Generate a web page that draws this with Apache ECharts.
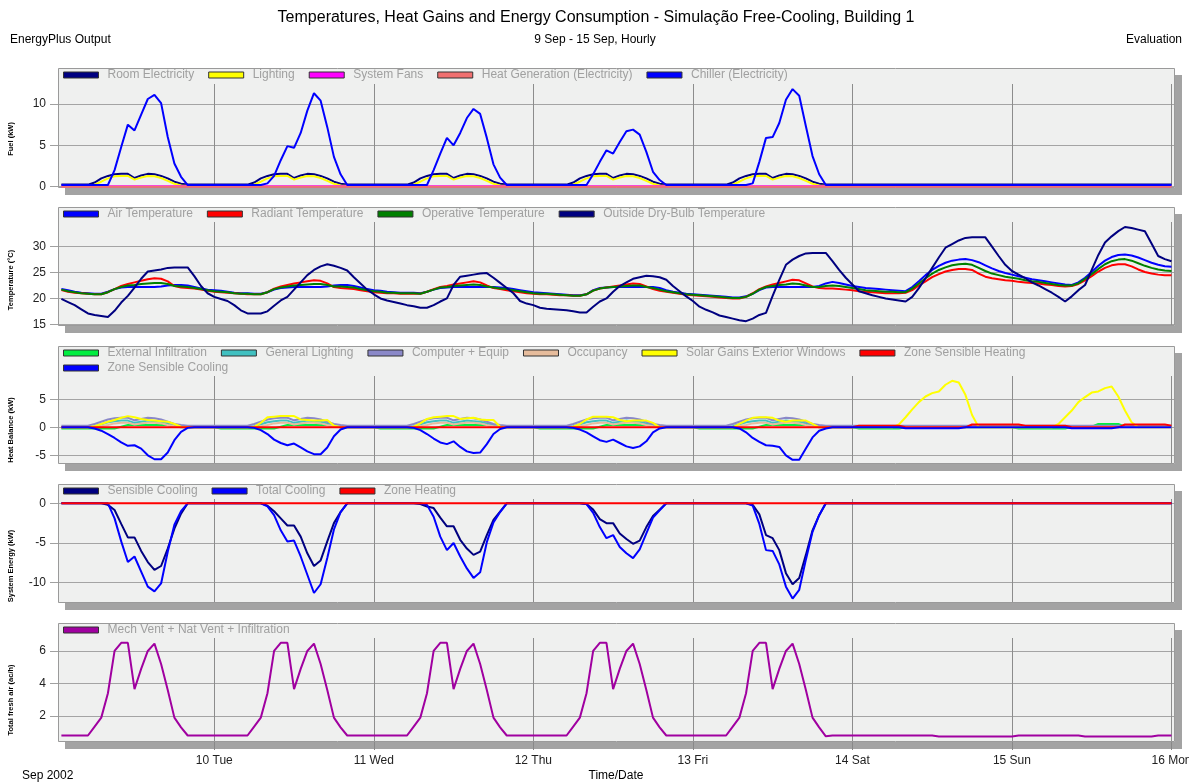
<!DOCTYPE html>
<html>
<head>
<meta charset="utf-8">
<title>Temperatures, Heat Gains and Energy Consumption</title>
<script src="https://cdn.jsdelivr.net/npm/echarts@6/dist/echarts.min.js"></script>
<style>
  html, body { margin: 0; padding: 0; background: #ffffff; }
  #chart { width: 1189px; height: 783px; }
</style>
</head>
<body>
<div id="chart"></div>
<script>
// ---- Hourly values, 9 Sep 01:00 .. 16 Sep 00:00 (one row per day, Mon..Sun) ----

// Day boundaries on the time axis (hours since 9 Sep 00:00) and their labels
const dayTicks = [24, 48, 72, 96, 120, 144, 168];
const dayLabels = ['10 Tue', '11 Wed', '12 Thu', '13 Fri', '14 Sat', '15 Sun', '16 Mon'];

// y tick labels per panel
const fuelTicks = [0, 5, 10];
const temperatureTicks = [15, 20, 25, 30];
const heatBalanceTicks = [-5, 0, 5];
const systemEnergyTicks = [-10, -5, 0];
const freshAirTicks = [2, 4, 6];

// Fuel (kW)
const roomElectricity = [
  0.25,0.25,0.25,0.25,0.25,0.5,1.0,1.3,1.5,1.55,1.55,1.05,1.35,1.55,1.5,1.3,1.0,0.6,0.35,0.25,0.25,0.25,0.25,0.25,
  0.25,0.25,0.25,0.25,0.25,0.5,1.0,1.3,1.5,1.55,1.55,1.05,1.35,1.55,1.5,1.3,1.0,0.6,0.35,0.25,0.25,0.25,0.25,0.25,
  0.25,0.25,0.25,0.25,0.25,0.5,1.0,1.3,1.5,1.55,1.55,1.05,1.35,1.55,1.5,1.3,1.0,0.6,0.35,0.25,0.25,0.25,0.25,0.25,
  0.25,0.25,0.25,0.25,0.25,0.5,1.0,1.3,1.5,1.55,1.55,1.05,1.35,1.55,1.5,1.3,1.0,0.6,0.35,0.25,0.25,0.25,0.25,0.25,
  0.25,0.25,0.25,0.25,0.25,0.5,1.0,1.3,1.5,1.55,1.55,1.05,1.35,1.55,1.5,1.3,1.0,0.6,0.35,0.25,0.25,0.25,0.25,0.25,
  0.25,0.25,0.25,0.25,0.25,0.25,0.25,0.25,0.25,0.25,0.25,0.25,0.25,0.25,0.25,0.25,0.25,0.25,0.25,0.25,0.25,0.25,0.25,0.25,
  0.25,0.25,0.25,0.25,0.25,0.25,0.25,0.25,0.25,0.25,0.25,0.25,0.25,0.25,0.25,0.25,0.25,0.25,0.25,0.25,0.25,0.25,0.25,0.25
];
const lighting = [
  0.1,0.1,0.1,0.1,0.1,0.25,0.6,1.0,1.25,1.3,1.3,0.85,1.1,1.3,1.25,1.05,0.7,0.35,0.15,0.1,0.1,0.1,0.1,0.1,
  0.1,0.1,0.1,0.1,0.1,0.25,0.6,1.0,1.25,1.3,1.3,0.85,1.1,1.3,1.25,1.05,0.7,0.35,0.15,0.1,0.1,0.1,0.1,0.1,
  0.1,0.1,0.1,0.1,0.1,0.25,0.6,1.0,1.25,1.3,1.3,0.85,1.1,1.3,1.25,1.05,0.7,0.35,0.15,0.1,0.1,0.1,0.1,0.1,
  0.1,0.1,0.1,0.1,0.1,0.25,0.6,1.0,1.25,1.3,1.3,0.85,1.1,1.3,1.25,1.05,0.7,0.35,0.15,0.1,0.1,0.1,0.1,0.1,
  0.1,0.1,0.1,0.1,0.1,0.25,0.6,1.0,1.25,1.3,1.3,0.85,1.1,1.3,1.25,1.05,0.7,0.35,0.15,0.1,0.1,0.1,0.1,0.1,
  0.1,0.1,0.1,0.1,0.1,0.1,0.1,0.1,0.1,0.1,0.1,0.1,0.1,0.1,0.1,0.1,0.1,0.1,0.1,0.1,0.1,0.1,0.1,0.1,
  0.1,0.1,0.1,0.1,0.1,0.1,0.1,0.1,0.1,0.1,0.1,0.1,0.1,0.1,0.1,0.1,0.1,0.1,0.1,0.1,0.1,0.1,0.1,0.1
];
const systemFans = [
  0.05,0.05,0.05,0.05,0.05,0.05,0.05,0.05,0.05,0.05,0.05,0.05,0.05,0.05,0.05,0.05,0.05,0.05,0.05,0.05,0.05,0.05,0.05,0.05,
  0.05,0.05,0.05,0.05,0.05,0.05,0.05,0.05,0.05,0.05,0.05,0.05,0.05,0.05,0.05,0.05,0.05,0.05,0.05,0.05,0.05,0.05,0.05,0.05,
  0.05,0.05,0.05,0.05,0.05,0.05,0.05,0.05,0.05,0.05,0.05,0.05,0.05,0.05,0.05,0.05,0.05,0.05,0.05,0.05,0.05,0.05,0.05,0.05,
  0.05,0.05,0.05,0.05,0.05,0.05,0.05,0.05,0.05,0.05,0.05,0.05,0.05,0.05,0.05,0.05,0.05,0.05,0.05,0.05,0.05,0.05,0.05,0.05,
  0.05,0.05,0.05,0.05,0.05,0.05,0.05,0.05,0.05,0.05,0.05,0.05,0.05,0.05,0.05,0.05,0.05,0.05,0.05,0.05,0.05,0.05,0.05,0.05,
  0.05,0.05,0.05,0.05,0.05,0.05,0.05,0.05,0.05,0.05,0.05,0.05,0.05,0.05,0.05,0.05,0.05,0.05,0.05,0.05,0.05,0.05,0.05,0.05,
  0.05,0.05,0.05,0.05,0.05,0.05,0.05,0.05,0.05,0.05,0.05,0.05,0.05,0.05,0.05,0.05,0.05,0.05,0.05,0.05,0.05,0.05,0.05,0.05
];
const heatGeneration = [
  0,0,0,0,0,0,0,0,0,0,0,0,0,0,0,0,0,0,0,0,0,0,0,0,
  0,0,0,0,0,0,0,0,0,0,0,0,0,0,0,0,0,0,0,0,0,0,0,0,
  0,0,0,0,0,0,0,0,0,0,0,0,0,0,0,0,0,0,0,0,0,0,0,0,
  0,0,0,0,0,0,0,0,0,0,0,0,0,0,0,0,0,0,0,0,0,0,0,0,
  0,0,0,0,0,0,0,0,0,0,0,0,0,0,0,0,0,0,0,0,0,0,0,0,
  0,0,0,0,0,0,0,0,0,0,0,0,0,0,0,0,0,0,0,0,0,0,0,0,
  0,0,0,0,0,0,0,0,0,0,0,0,0,0,0,0,0,0,0,0,0,0,0,0
];
const chiller = [
  0.2,0.2,0.2,0.2,0.2,0.2,0.2,0.2,2.0,4.8,7.5,6.8,8.7,10.6,11.1,10.1,6.0,2.8,1.2,0.2,0.2,0.2,0.2,0.2,
  0.2,0.2,0.2,0.2,0.2,0.2,0.2,0.4,1.3,3.2,4.9,4.7,6.5,9.2,11.3,10.4,7.2,3.6,1.5,0.2,0.2,0.2,0.2,0.2,
  0.2,0.2,0.2,0.2,0.2,0.2,0.2,0.2,2.0,4.0,5.9,5.0,6.5,8.3,9.4,8.8,5.9,2.7,1.1,0.2,0.2,0.2,0.2,0.2,
  0.2,0.2,0.2,0.2,0.2,0.2,0.2,0.2,1.5,3.0,4.4,4.0,5.4,6.7,6.9,6.3,4.2,1.8,0.8,0.2,0.2,0.2,0.2,0.2,
  0.2,0.2,0.2,0.2,0.2,0.2,0.2,0.2,0.4,3.0,5.9,6.0,7.7,10.5,11.8,11.0,7.3,3.7,1.5,0.2,0.2,0.2,0.2,0.2,
  0.2,0.2,0.2,0.2,0.2,0.2,0.2,0.2,0.2,0.2,0.2,0.2,0.2,0.2,0.2,0.2,0.2,0.2,0.2,0.2,0.2,0.2,0.2,0.2,
  0.2,0.2,0.2,0.2,0.2,0.2,0.2,0.2,0.2,0.2,0.2,0.2,0.2,0.2,0.2,0.2,0.2,0.2,0.2,0.2,0.2,0.2,0.2,0.2
];

// Temperature (°C)
const airTemperature = [
  21.8,21.6,21.3,21.1,21.0,20.9,20.9,21.3,21.8,22.1,22.2,22.2,22.2,22.2,22.2,22.3,22.5,22.6,22.6,22.5,22.2,21.9,21.7,21.6,
  21.5,21.3,21.1,21.0,21.0,20.9,20.9,21.2,21.7,22.0,22.1,22.2,22.2,22.2,22.2,22.2,22.3,22.5,22.6,22.6,22.4,22.1,21.8,21.6,
  21.5,21.3,21.2,21.1,21.1,21.1,21.0,21.3,21.7,22.0,22.1,22.2,22.2,22.2,22.2,22.2,22.2,22.2,22.1,22.0,21.8,21.6,21.4,21.2,
  21.1,21.0,20.9,20.8,20.7,20.6,20.6,20.8,21.6,22.0,22.1,22.2,22.2,22.2,22.2,22.2,22.2,22.2,22.0,21.6,21.3,21.1,20.9,20.8,
  20.7,20.6,20.5,20.4,20.3,20.2,20.2,20.4,20.9,21.6,22.1,22.2,22.2,22.2,22.2,22.2,22.2,22.2,22.4,22.9,23.2,23.0,22.7,22.4,
  22.2,22.0,21.9,21.8,21.7,21.6,21.5,21.4,22.2,23.3,24.5,25.5,26.3,26.9,27.3,27.5,27.6,27.4,27.0,26.4,25.8,25.3,24.9,24.6,
  24.3,24.0,23.7,23.5,23.3,23.1,22.9,22.7,22.6,23.1,24.0,25.1,26.3,27.3,28.0,28.4,28.5,28.3,27.9,27.4,26.9,26.5,26.2,26.1
];
const radiantTemperature = [
  21.6,21.3,21.1,21.0,20.9,20.8,20.8,21.2,21.8,22.4,22.8,23.1,23.4,23.7,23.9,23.8,23.3,22.4,22.1,22.0,21.9,21.7,21.5,21.3,
  21.2,21.1,21.0,20.9,20.8,20.8,20.8,21.2,21.9,22.3,22.6,22.9,23.1,23.3,23.5,23.4,22.9,22.2,22.0,21.9,21.8,21.6,21.4,21.2,
  21.1,21.0,21.0,20.9,20.9,20.9,20.9,21.3,21.8,22.2,22.4,22.7,22.9,23.1,23.3,23.1,22.5,22.0,21.8,21.6,21.4,21.2,21.0,20.9,
  20.8,20.8,20.7,20.6,20.6,20.5,20.5,20.8,21.5,21.9,22.1,22.3,22.5,22.7,22.9,22.8,22.3,21.8,21.5,21.3,21.1,20.9,20.7,20.6,
  20.5,20.4,20.3,20.2,20.1,20.0,20.0,20.3,21.0,21.8,22.3,22.7,23.0,23.3,23.6,23.5,22.9,22.3,22.0,21.9,21.9,21.8,21.7,21.6,
  21.4,21.3,21.2,21.1,21.0,21.0,21.0,21.1,21.6,22.5,23.3,24.1,24.7,25.2,25.5,25.7,25.7,25.5,24.8,24.2,23.9,23.7,23.5,23.4,
  23.2,23.1,23.0,22.9,22.7,22.6,22.4,22.3,22.4,22.8,23.5,24.3,25.2,25.9,26.4,26.6,26.6,26.2,25.6,25.1,24.8,24.6,24.5,24.5
];
const operativeTemperature = [
  21.7,21.4,21.2,21.0,20.9,20.8,20.8,21.2,21.8,22.2,22.5,22.6,22.8,22.9,23.0,23.0,22.8,22.4,22.3,22.2,22.0,21.8,21.6,21.4,
  21.3,21.2,21.0,20.9,20.9,20.8,20.8,21.2,21.8,22.1,22.3,22.5,22.6,22.7,22.8,22.8,22.6,22.3,22.3,22.2,22.1,21.8,21.6,21.4,
  21.3,21.1,21.1,21.0,21.0,21.0,20.9,21.3,21.7,22.1,22.2,22.4,22.5,22.6,22.7,22.6,22.3,22.1,21.9,21.8,21.6,21.4,21.2,21.0,
  20.9,20.9,20.8,20.7,20.6,20.5,20.5,20.8,21.5,21.9,22.1,22.2,22.3,22.4,22.5,22.5,22.2,22.0,21.7,21.4,21.2,21.0,20.8,20.7,
  20.6,20.5,20.4,20.3,20.2,20.1,20.1,20.3,20.9,21.7,22.2,22.4,22.6,22.7,22.9,22.8,22.5,22.2,22.2,22.4,22.5,22.4,22.2,22.0,
  21.8,21.6,21.5,21.4,21.3,21.3,21.2,21.2,21.9,22.9,23.9,24.8,25.5,26.0,26.4,26.6,26.7,26.5,25.9,25.3,24.8,24.5,24.2,24.0,
  23.8,23.5,23.3,23.2,23.0,22.8,22.6,22.5,22.5,22.9,23.8,24.7,25.7,26.6,27.2,27.5,27.6,27.3,26.8,26.3,25.9,25.6,25.4,25.3
];
const outsideDryBulb = [
  19.9,19.3,18.7,17.9,17.1,16.8,16.6,16.4,17.6,19.2,20.5,22.1,23.8,25.2,25.4,25.6,25.9,26.0,26.0,26.0,24.3,22.4,21.0,20.3,
  19.9,19.5,18.7,17.7,17.1,17.1,17.1,17.5,18.6,19.6,20.3,21.7,23.1,24.5,25.5,26.2,26.6,26.3,25.9,25.4,24.1,22.9,21.7,20.8,
  20.0,19.6,19.3,19.0,18.7,18.5,18.2,18.2,18.7,19.4,20.0,22.6,24.2,24.4,24.6,24.8,24.9,24.0,23.0,22.0,21.0,19.5,19.0,18.7,
  18.2,18.0,17.9,17.8,17.7,17.5,17.3,17.3,18.4,19.4,20.0,21.3,22.4,23.1,23.8,24.1,24.4,24.3,24.1,23.6,22.4,21.4,20.4,19.5,
  18.4,17.8,17.3,16.7,16.4,16.1,15.8,15.6,16.1,16.8,17.2,20.5,23.6,26.5,27.5,28.2,28.7,28.8,28.8,28.8,27.2,25.5,24.0,22.7,
  21.4,21.0,20.6,20.3,20.0,19.8,19.6,19.4,20.3,22.0,23.9,25.9,27.9,29.8,30.5,31.2,31.7,31.8,31.8,31.8,30.0,28.2,26.5,25.3,
  24.6,23.9,23.1,22.5,21.8,21.1,20.3,19.4,20.4,21.6,22.6,25.5,28.4,30.8,32.0,33.0,33.8,33.6,33.3,33.0,30.6,28.2,27.6,27.2
];

// Heat Balance (kW)
const externalInfiltration = [
  -0.2,-0.2,-0.2,-0.2,-0.2,-0.2,-0.2,-0.2,-0.2,0.1,0.4,0.4,0.4,0.4,0.4,0.4,0.4,0.2,0,0,0,0,0,0,
  -0.2,-0.2,-0.2,-0.2,-0.2,-0.2,-0.2,-0.2,-0.2,0.1,0.4,0.4,0.4,0.4,0.4,0.4,0.4,0.2,0,0,0,0,0,0,
  -0.2,-0.2,-0.2,-0.2,-0.2,-0.2,-0.2,-0.2,-0.2,0.1,0.4,0.4,0.4,0.4,0.4,0.4,0.4,0.2,0,0,0,0,0,0,
  -0.2,-0.2,-0.2,-0.2,-0.2,-0.2,-0.2,-0.2,-0.2,0.1,0.4,0.4,0.4,0.4,0.4,0.4,0.4,0.2,0,0,0,0,0,0,
  -0.2,-0.2,-0.2,-0.2,-0.2,-0.2,-0.2,-0.2,-0.2,0.1,0.4,0.4,0.4,0.4,0.4,0.4,0.4,0.2,0,0,0,0,0,0,
  -0.2,-0.2,-0.2,-0.2,-0.2,-0.2,-0.2,0,0,0,0,0,0,0,0,0,0,0,0,0,0,0,0,0,
  -0.2,-0.2,-0.2,-0.2,-0.2,-0.2,-0.2,-0.2,0.1,0.1,0.1,0.1,0.6,0.6,0.6,0.6,0.1,0.1,0.1,0.1,0.1,0.1,0.1,0.1
];
const generalLighting = [
  0.05,0.05,0.05,0.05,0.05,0.2,0.55,0.9,1.1,1.2,1.2,0.8,1.0,1.2,1.1,1.0,0.7,0.4,0.2,0.05,0.05,0.05,0.05,0.05,
  0.05,0.05,0.05,0.05,0.05,0.2,0.55,0.9,1.1,1.2,1.2,0.8,1.0,1.2,1.1,1.0,0.7,0.4,0.2,0.05,0.05,0.05,0.05,0.05,
  0.05,0.05,0.05,0.05,0.05,0.2,0.55,0.9,1.1,1.2,1.2,0.8,1.0,1.2,1.1,1.0,0.7,0.4,0.2,0.05,0.05,0.05,0.05,0.05,
  0.05,0.05,0.05,0.05,0.05,0.2,0.55,0.9,1.1,1.2,1.2,0.8,1.0,1.2,1.1,1.0,0.7,0.4,0.2,0.05,0.05,0.05,0.05,0.05,
  0.05,0.05,0.05,0.05,0.05,0.2,0.55,0.9,1.1,1.2,1.2,0.8,1.0,1.2,1.1,1.0,0.7,0.4,0.2,0.05,0.05,0.05,0.05,0.05,
  0.05,0.05,0.05,0.05,0.05,0.05,0.05,0.05,0.05,0.05,0.05,0.05,0.05,0.05,0.05,0.05,0.05,0.05,0.05,0.05,0.05,0.05,0.05,0.05,
  0.05,0.05,0.05,0.05,0.05,0.05,0.05,0.05,0.05,0.05,0.05,0.05,0.05,0.05,0.05,0.05,0.05,0.05,0.05,0.05,0.05,0.05,0.05,0.05
];
const computerEquip = [
  0.3,0.3,0.3,0.3,0.3,0.6,1.0,1.4,1.6,1.7,1.7,1.25,1.5,1.7,1.6,1.4,1.0,0.6,0.4,0.3,0.3,0.3,0.3,0.3,
  0.3,0.3,0.3,0.3,0.3,0.6,1.0,1.4,1.6,1.7,1.7,1.25,1.5,1.7,1.6,1.4,1.0,0.6,0.4,0.3,0.3,0.3,0.3,0.3,
  0.3,0.3,0.3,0.3,0.3,0.6,1.0,1.4,1.6,1.7,1.7,1.25,1.5,1.7,1.6,1.4,1.0,0.6,0.4,0.3,0.3,0.3,0.3,0.3,
  0.3,0.3,0.3,0.3,0.3,0.6,1.0,1.4,1.6,1.7,1.7,1.25,1.5,1.7,1.6,1.4,1.0,0.6,0.4,0.3,0.3,0.3,0.3,0.3,
  0.3,0.3,0.3,0.3,0.3,0.6,1.0,1.4,1.6,1.7,1.7,1.25,1.5,1.7,1.6,1.4,1.0,0.6,0.4,0.3,0.3,0.3,0.3,0.3,
  0.3,0.3,0.3,0.3,0.3,0.3,0.3,0.3,0.3,0.3,0.3,0.3,0.3,0.3,0.3,0.3,0.3,0.3,0.3,0.3,0.3,0.3,0.3,0.3,
  0.3,0.3,0.3,0.3,0.3,0.3,0.3,0.3,0.3,0.3,0.3,0.3,0.3,0.3,0.3,0.3,0.3,0.3,0.3,0.3,0.3,0.3,0.3,0.3
];
const occupancy = [
  0,0,0,0,0,0,0.2,0.4,0.7,0.8,0.8,0.5,0.7,0.8,0.8,0.7,0.4,0.2,0.05,0,0,0,0,0,
  0,0,0,0,0,0,0.2,0.4,0.7,0.8,0.8,0.5,0.7,0.8,0.8,0.7,0.4,0.2,0.05,0,0,0,0,0,
  0,0,0,0,0,0,0.2,0.4,0.7,0.8,0.8,0.5,0.7,0.8,0.8,0.7,0.4,0.2,0.05,0,0,0,0,0,
  0,0,0,0,0,0,0.2,0.4,0.7,0.8,0.8,0.5,0.7,0.8,0.8,0.7,0.4,0.2,0.05,0,0,0,0,0,
  0,0,0,0,0,0,0.2,0.4,0.7,0.8,0.8,0.5,0.7,0.8,0.8,0.7,0.4,0.2,0.05,0,0,0,0,0,
  0,0,0,0,0,0,0,0,0,0,0,0,0,0,0,0,0,0,0,0,0,0,0,0,
  0,0,0,0,0,0,0,0,0,0,0,0,0,0,0,0,0,0,0,0,0,0,0,0
];
const solarGains = [
  0,0,0,0,0,0.2,0.6,1.0,1.3,1.7,2.0,1.8,1.5,1.3,1.2,1.1,1.0,0.6,0.1,0,0,0,0,0,
  0,0,0,0,0,0.1,0.8,1.8,1.9,2.0,2.0,2.0,1.4,1.3,1.2,1.2,1.3,0.3,0,0,0,0,0,0,
  0,0,0,0,0,0.1,0.7,1.5,1.8,1.9,2.0,2.0,1.5,1.6,1.7,1.4,1.3,1.3,0.1,0,0,0,0,0,
  0,0,0,0,0,0.1,0.6,1.4,1.9,1.9,1.9,1.8,1.3,1.1,1.2,1.2,1.2,0.8,0,0,0,0,0,0,
  0,0,0,0,0,0,0.6,1.2,1.7,1.8,1.8,1.7,1.2,1.0,1.2,1.2,1.2,0.6,0,0,0,0,0,0,
  0,0,0,0,0,0,0.5,1.8,3.2,4.5,5.5,6.1,6.4,7.6,8.3,8.0,5.8,2.2,0,0,0,0,0,0,
  0,0,0,0,0,0,0.6,1.8,3.0,4.5,5.4,6.2,6.4,7.0,7.3,5.5,3.0,0.9,0,0,0,0,0,0
];
const zoneSensibleHeating = [
  0,0,0,0,0,0,0,0,0,0,0,0,0,0,0,0,0,0,0,0,0,0,0,0,
  0,0,0,0,0,0,0,0,0,0,0,0,0,0,0,0,0,0,0,0,0,0,0,0,
  0,0,0,0,0,0,0,0,0,0,0,0,0,0,0,0,0,0,0,0,0,0,0,0,
  0,0,0,0,0,0,0,0,0,0,0,0,0,0,0,0,0,0,0,0,0,0,0,0,
  0,0,0,0,0,0,0,0,0,0,0,0,0,0,0,0,0,0,0,0,0,0,0,0,
  0.3,0.3,0.3,0.3,0.3,0.3,0.3,0,0,0,0,0,0,0,0,0,0,0.5,0.5,0.5,0.5,0.5,0.5,0.5,
  0.5,0.3,0.3,0.3,0.3,0.3,0.3,0.3,0,0,0,0,0,0,0,0,0.5,0.5,0.5,0.5,0.5,0.5,0.5,0.3
];
const zoneSensibleCooling = [
  0,0,0,0,0,-0.2,-0.6,-1.2,-1.9,-2.7,-3.3,-3.2,-3.8,-5.0,-5.7,-5.7,-4.5,-2.3,-0.8,-0.1,0,0,0,0,
  0,0,0,0,0,-0.1,-0.5,-1.2,-2.2,-2.8,-3.2,-2.9,-3.6,-4.3,-4.8,-4.8,-3.6,-1.6,-0.4,0,0,0,0,0,
  0,0,0,0,0,-0.1,-0.5,-1.2,-2.0,-2.7,-3.0,-2.5,-3.5,-4.3,-4.6,-4.5,-3.0,-1.2,-0.3,0,0,0,0,0,
  0,0,0,0,0,-0.1,-0.4,-0.9,-1.6,-2.3,-2.6,-2.2,-2.8,-3.4,-3.7,-3.4,-2.5,-0.9,-0.2,0,0,0,0,0,
  0,0,0,0,0,0,-0.2,-0.9,-1.9,-2.6,-3.2,-3.3,-3.5,-5.0,-5.8,-5.8,-3.8,-1.8,-0.6,-0.2,0,0,0,0,
  0,0,0,0,0,0,0,-0.15,-0.15,-0.15,-0.15,-0.15,-0.15,-0.15,-0.15,-0.15,0,0,0,0,0,0,0,0,
  0,0,0,0,0,0,0,0,-0.15,-0.15,-0.15,-0.15,-0.15,-0.15,-0.15,0,0,0,0,0,0,0,0,0
];

// System Energy (kW)
const sensibleCooling = [
  0,0,0,0,0,0,0,-0.2,-0.85,-2.6,-4.3,-4.3,-6.0,-7.4,-8.4,-7.9,-5.7,-3.2,-1.3,0,0,0,0,0,
  0,0,0,0,0,0,0,-0.3,-1.0,-1.9,-2.8,-2.8,-4.2,-6.3,-7.9,-7.2,-4.8,-2.5,-1.1,0,0,0,0,0,
  0,0,0,0,0,0,-0.1,-0.4,-0.6,-1.8,-2.9,-2.9,-4.6,-5.7,-6.5,-6.1,-4.0,-2.1,-1.05,0,0,0,0,0,
  0,0,0,0,0,0,0,-0.1,-0.8,-2.0,-2.5,-2.5,-3.8,-4.5,-5.1,-4.7,-3.0,-1.6,-0.8,0,0,0,0,0,
  0,0,0,0,0,0,0,0,-0.2,-1.4,-4.0,-4.4,-5.9,-8.8,-10.2,-9.4,-6.5,-3.4,-1.5,0,0,0,0,0,
  0,0,0,0,0,0,0,0,0,0,0,0,0,0,0,0,0,0,0,0,0,0,0,0,
  0,0,0,0,0,0,0,0,0,0,0,0,0,0,0,0,0,0,0,0,0,0,0,0
];
const totalCooling = [
  0,0,0,0,0,0,0,0,-1.9,-4.8,-7.4,-6.7,-8.6,-10.5,-11.1,-10.1,-6.1,-2.7,-1.0,0,0,0,0,0,
  0,0,0,0,0,0,0,-0.4,-1.5,-3.4,-4.8,-4.7,-6.7,-9.0,-11.3,-10.2,-6.9,-3.3,-1.1,0,0,0,0,0,
  0,0,0,0,0,0,0,-0.2,-1.7,-4.2,-5.9,-5.0,-6.7,-8.2,-9.4,-8.7,-4.9,-2.4,-1.1,0,0,0,0,0,
  0,0,0,0,0,0,0,-0.1,-1.2,-3.0,-4.4,-4.0,-5.5,-6.3,-6.9,-5.8,-3.8,-1.8,-0.9,0,0,0,0,0,
  0,0,0,0,0,0,0,0,-0.3,-2.6,-5.9,-6.0,-7.7,-10.5,-12.0,-10.9,-7.1,-3.6,-1.5,0,0,0,0,0,
  0,0,0,0,0,0,0,0,0,0,0,0,0,0,0,0,0,0,0,0,0,0,0,0,
  0,0,0,0,0,0,0,0,0,0,0,0,0,0,0,0,0,0,0,0,0,0,0,0
];
const zoneHeating = [
  0,0,0,0,0,0,0,0,0,0,0,0,0,0,0,0,0,0,0,0,0,0,0,0,
  0,0,0,0,0,0,0,0,0,0,0,0,0,0,0,0,0,0,0,0,0,0,0,0,
  0,0,0,0,0,0,0,0,0,0,0,0,0,0,0,0,0,0,0,0,0,0,0,0,
  0,0,0,0,0,0,0,0,0,0,0,0,0,0,0,0,0,0,0,0,0,0,0,0,
  0,0,0,0,0,0,0,0,0,0,0,0,0,0,0,0,0,0,0,0,0,0,0,0,
  0,0,0,0,0,0,0,0,0,0,0,0,0,0,0,0,0,0,0,0,0,0,0,0,
  0,0,0,0,0,0,0,0,0,0,0,0,0,0,0,0,0,0,0,0,0,0,0,0
];

// Total fresh air (ac/h)
const freshAir = [
  0.8,0.8,0.8,0.8,0.8,1.35,1.9,3.4,6.0,6.5,6.5,3.65,4.9,6.0,6.45,5.2,3.6,1.9,1.3,0.8,0.8,0.8,0.8,0.8,
  0.8,0.8,0.8,0.8,0.8,1.35,1.9,3.4,6.0,6.5,6.5,3.65,4.9,6.0,6.45,5.2,3.6,1.9,1.3,0.8,0.8,0.8,0.8,0.8,
  0.8,0.8,0.8,0.8,0.8,1.35,1.9,3.4,6.0,6.5,6.5,3.65,4.9,6.0,6.45,5.2,3.6,1.9,1.3,0.8,0.8,0.8,0.8,0.8,
  0.8,0.8,0.8,0.8,0.8,1.35,1.9,3.4,6.0,6.5,6.5,3.65,4.9,6.0,6.45,5.2,3.6,1.9,1.3,0.8,0.8,0.8,0.8,0.8,
  0.8,0.8,0.8,0.8,0.8,1.35,1.9,3.4,6.0,6.5,6.5,3.65,4.9,6.0,6.45,5.2,3.6,1.9,1.3,0.75,0.8,0.8,0.8,0.8,
  0.8,0.8,0.8,0.8,0.8,0.8,0.8,0.8,0.8,0.8,0.8,0.8,0.74,0.74,0.74,0.74,0.74,0.74,0.74,0.74,0.74,0.74,0.74,0.74,
  0.8,0.8,0.8,0.8,0.8,0.8,0.8,0.8,0.8,0.8,0.74,0.74,0.74,0.74,0.74,0.74,0.74,0.74,0.74,0.74,0.74,0.8,0.8,0.8
];

// ---- Layout ----
const FONT = '"Liberation Sans", Arial, Helvetica, sans-serif';
const PLOT_LEFT = 58;
const PLOT_RIGHT = 1175;
const PLOT_W = PLOT_RIGHT - PLOT_LEFT;
const X_MIN = 0.49, X_MAX = 168.53;
const PLOT_BG = '#eff0ef';

const panels = [
  { top: 68,  height: 120, min: -0.16,  max: 14.35, ticks: fuelTicks,         strip: 84,  title: 'Fuel (kW)',              titleY: 139 },
  { top: 207, height: 119, min: 14.67,  max: 37.67, ticks: temperatureTicks,  strip: 222, title: 'Temperature (°C)',       titleY: 280 },
  { top: 346, height: 118, min: -6.55,  max: 14.52, ticks: heatBalanceTicks,  strip: 376, title: 'Heat Balance (kW)',      titleY: 430 },
  { top: 484, height: 119, min: -12.56, max: 2.43,  ticks: systemEnergyTicks, strip: 499, title: 'System Energy (kW)',     titleY: 566 },
  { top: 623, height: 119, min: 0.40,   max: 7.72,  ticks: freshAirTicks,     strip: 638, title: 'Total fresh air (ac/h)', titleY: 700 }
];

// name, values, colour, panel
const seriesDefs = [
  ['Room Electricity', roomElectricity, '#000080', 0],
  ['Lighting', lighting, '#ffff00', 0],
  ['System Fans', systemFans, '#ff00ff', 0],
  ['Heat Generation (Electricity)', heatGeneration, '#f07070', 0],
  ['Chiller (Electricity)', chiller, '#0000ff', 0],
  ['Air Temperature', airTemperature, '#0000ff', 1],
  ['Radiant Temperature', radiantTemperature, '#ff0000', 1],
  ['Operative Temperature', operativeTemperature, '#008000', 1],
  ['Outside Dry-Bulb Temperature', outsideDryBulb, '#000080', 1],
  ['External Infiltration', externalInfiltration, '#00ee40', 2],
  ['General Lighting', generalLighting, '#40c0c0', 2],
  ['Computer + Equip', computerEquip, '#8a88c8', 2],
  ['Occupancy', occupancy, '#e6bc9c', 2],
  ['Solar Gains Exterior Windows', solarGains, '#ffff00', 2],
  ['Zone Sensible Heating', zoneSensibleHeating, '#ff0000', 2],
  ['Zone Sensible Cooling', zoneSensibleCooling, '#0000ff', 2],
  ['Sensible Cooling', sensibleCooling, '#000080', 3],
  ['Total Cooling', totalCooling, '#0000ff', 3],
  ['Zone Heating', zoneHeating, '#ff0000', 3],
  ['Mech Vent + Nat Vent + Infiltration', freshAir, '#a000a0', 4]
];

const legendRows = [
  { top: 69,  names: ['Room Electricity', 'Lighting', 'System Fans', 'Heat Generation (Electricity)', 'Chiller (Electricity)'] },
  { top: 208, names: ['Air Temperature', 'Radiant Temperature', 'Operative Temperature', 'Outside Dry-Bulb Temperature'] },
  { top: 347, names: ['External Infiltration', 'General Lighting', 'Computer + Equip', 'Occupancy', 'Solar Gains Exterior Windows', 'Zone Sensible Heating'] },
  { top: 362, names: ['Zone Sensible Cooling'] },
  { top: 485, names: ['Sensible Cooling', 'Total Cooling', 'Zone Heating'] },
  { top: 624, names: ['Mech Vent + Nat Vent + Infiltration'] }
];

const grid = panels.map(p => ({
  left: PLOT_LEFT, width: PLOT_W, top: p.top, height: p.height,
  show: false, containLabel: false, outerBoundsMode: 'none'
}));

const xAxis = panels.map((p, i) => ({
  type: 'value', gridIndex: i, min: X_MIN, max: X_MAX,
  axisLine: { show: false },
  axisTick: { show: i === panels.length - 1, customValues: dayTicks, length: 8, lineStyle: { color: '#888888' } },
  axisLabel: {
    show: i === panels.length - 1, customValues: dayTicks, margin: 13, hideOverlap: false,
    color: '#222222', fontSize: 12, fontFamily: FONT,
    formatter: v => dayLabels[dayTicks.indexOf(v)] || ''
  },
  splitLine: { show: true, lineStyle: { color: '#8c8c8c', width: 1 } }
}));

const yAxis = panels.map((p, i) => ({
  type: 'value', gridIndex: i, min: p.min, max: p.max,
  axisLine: { show: false },
  axisTick: { show: true, customValues: p.ticks, length: 8, lineStyle: { color: '#a0a0a0' } },
  axisLabel: { customValues: p.ticks, margin: 12, color: '#222222', fontSize: 12, fontFamily: FONT },
  splitLine: { show: true, lineStyle: { color: '#a4a4a4', width: 1.2 } }
}));

const series = seriesDefs.map(([name, values, color, panel]) => ({
  name, type: 'line', xAxisIndex: panel, yAxisIndex: panel,
  data: values.map((v, i) => [i + 1, v]),
  showSymbol: false, symbol: 'none', color,
  lineStyle: { color, width: 2 },
  emphasis: { disabled: true },
  animation: false
}));

const legend = legendRows.map(row => ({
  left: 63, top: row.top, orient: 'horizontal', padding: 0,
  data: row.names, icon: 'rect', itemWidth: 35, itemHeight: 6, itemGap: 14,
  itemStyle: { borderColor: '#333333', borderWidth: 1 },
  textStyle: { color: '#a0a0a0', fontSize: 12, fontFamily: FONT, padding: [0, 0, 0, 4] },
  selectedMode: false
}));

// Panel frames: drop shadow, background, strip behind the legend, border
const graphicEls = [];
panels.forEach(p => {
  graphicEls.push({ type: 'rect', z: -2, silent: true,
    shape: { x: PLOT_LEFT + 7, y: p.top + 7, width: PLOT_W, height: p.height },
    style: { fill: '#a3a3a3' } });
  graphicEls.push({ type: 'rect', z: -1, silent: true,
    shape: { x: PLOT_LEFT, y: p.top, width: PLOT_W, height: p.height },
    style: { fill: PLOT_BG } });
  graphicEls.push({ type: 'rect', z: 1, silent: true,
    shape: { x: PLOT_LEFT + 1, y: p.top + 1, width: PLOT_W - 2, height: p.strip - p.top - 1 },
    style: { fill: PLOT_BG } });
  graphicEls.push({ type: 'rect', z: 3, silent: true,
    shape: { x: PLOT_LEFT + 0.5, y: p.top + 0.5, width: PLOT_W - 1, height: p.height - 1 },
    style: { fill: 'none', stroke: '#9a9a9a', lineWidth: 1 } });
  graphicEls.push({ type: 'text', z: 3, silent: true, x: 11, y: p.titleY, rotation: Math.PI / 2,
    style: { text: p.title, fill: '#000000', font: 'bold 7.5px ' + FONT, textAlign: 'center', textVerticalAlign: 'middle' } });
});

const headerText = (text, x, y, size, align) => ({
  type: 'text', z: 3, silent: true, x, y,
  style: { text, fill: '#000000', font: size + 'px ' + FONT, textAlign: align, textVerticalAlign: 'middle' }
});
graphicEls.push(headerText('Temperatures, Heat Gains and Energy Consumption - Simulação Free-Cooling, Building 1', 596, 18, 16, 'center'));
graphicEls.push(headerText('EnergyPlus Output', 10, 40, 12, 'left'));
graphicEls.push(headerText('9 Sep - 15 Sep, Hourly', 595, 40, 12, 'center'));
graphicEls.push(headerText('Evaluation', 1182, 40, 12, 'right'));
graphicEls.push(headerText('Sep 2002', 22, 776, 12, 'left'));
graphicEls.push(headerText('Time/Date', 616, 776, 12, 'center'));

const chart = echarts.init(document.getElementById('chart'), null, { renderer: 'canvas' });
chart.setOption({
  animation: false,
  backgroundColor: '#ffffff',
  textStyle: { fontFamily: FONT },
  grid, xAxis, yAxis, series, legend,
  graphic: { elements: graphicEls }
});
</script>
</body>
</html>
